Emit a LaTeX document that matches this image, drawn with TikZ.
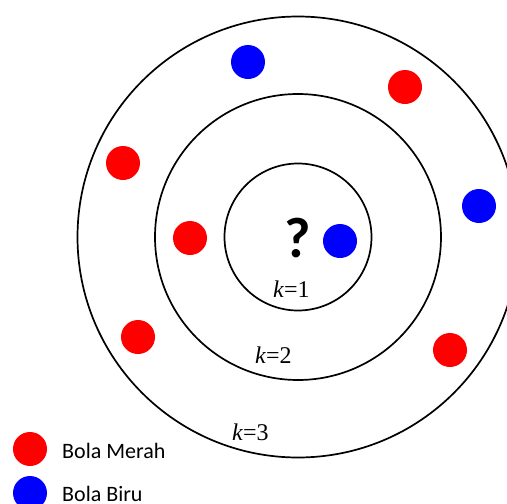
\documentclass[tikz,border=0pt]{standalone}
\usepackage{fontspec}
\setmainfont{Carlito}
\newfontfamily\timesfont{Liberation Serif}
\begin{document}
\begin{tikzpicture}[x=1pt,y=-1pt,
  ring/.style={draw=black,line width=1.7pt},
  ball/.style={circle,inner sep=0pt,minimum size=34pt},
  redball/.style={ball,fill=red},
  blueball/.style={ball,fill=blue},
  klabel/.style={anchor=base west,inner sep=0pt,font=\timesfont\fontsize{24}{24}\selectfont},
  legend/.style={anchor=base west,inner sep=0pt,font=\fontsize{22}{22}\selectfont}]
\useasboundingbox (0,0) rectangle (507,504);
\clip (0,0) rectangle (507,504);
\coordinate (c) at (298,237);
\draw[ring] (c) circle[radius=220.5];
\draw[ring] (c) circle[radius=143];
\draw[ring] (c) circle[radius=73.5];
\node[anchor=base,inner sep=0pt,font=\bfseries\fontsize{57}{57}\selectfont] (q) at (298,257) {?};
\node[blueball] (b0) at (340,241) {};
\node[redball] (r1) at (190,238) {};
\node[redball] (r2) at (123,163) {};
\node[redball] (r3) at (138,337) {};
\node[blueball] (b1) at (248,62) {};
\node[redball] (r4) at (405,87) {};
\node[blueball] (b2) at (479,206) {};
\node[redball] (r5) at (450,350) {};
\node[klabel] (k1) at (273,297) {\textit{k}=1};
\node[klabel] (k2) at (255,363) {\textit{k}=2};
\node[klabel] (k3) at (232,440) {\textit{k}=3};
\node[redball] (lr) at (30,449) {};
\node[blueball] (lb) at (30,493) {};
\node[legend] (lrt) at (62,458) {Bola Merah};
\node[legend] (lbt) at (62,501) {Bola Biru};
\end{tikzpicture}
\end{document}
